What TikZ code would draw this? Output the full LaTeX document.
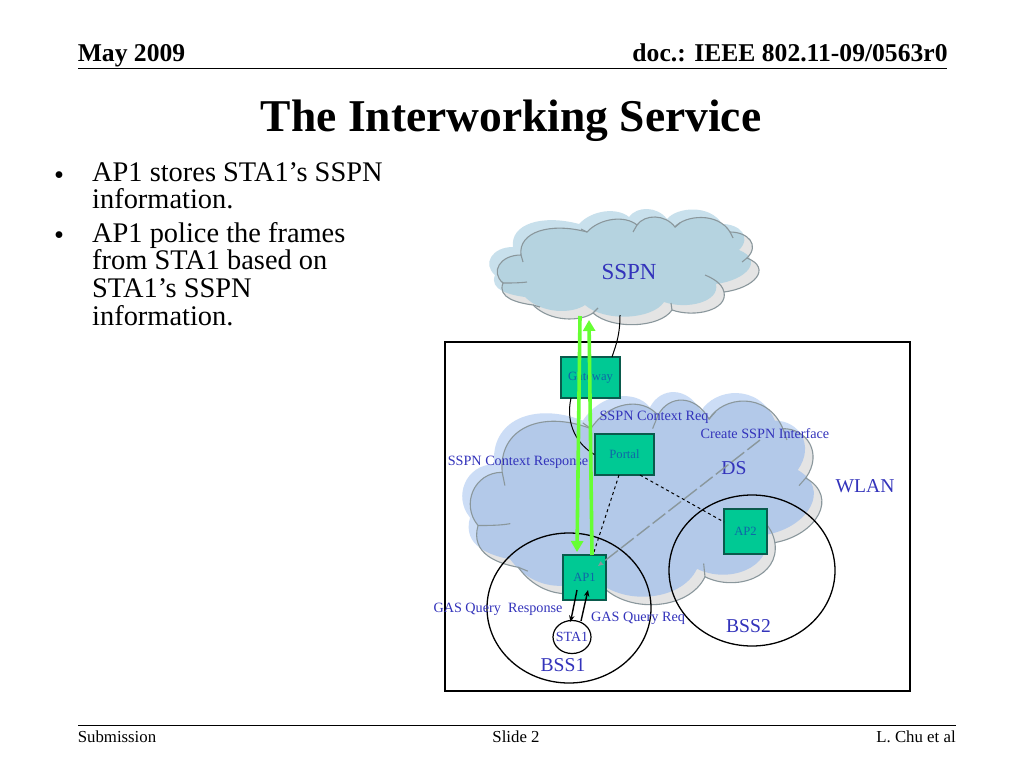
\documentclass[tikz,border=0pt]{standalone}
\usepackage{fontspec}
\setmainfont{Liberation Serif}
\usepackage{tikz}
\usetikzlibrary{arrows.meta, shapes.geometric, positioning}
\definecolor{SspnMain}{HTML}{B5D3E0}
\definecolor{SspnLight}{HTML}{C8E0EC}
\definecolor{DsMain}{HTML}{B3C9E9}
\definecolor{DsLight}{HTML}{CCDDF6}
\definecolor{CloudGrey}{HTML}{E4E4E4}
\definecolor{CloudLine}{HTML}{8A979C}
\definecolor{LabelBlue}{HTML}{3333BB}
\definecolor{BoxTeal}{HTML}{00C994}
\definecolor{BoxEdge}{HTML}{0A5A4C}
\definecolor{BoxText}{HTML}{0F66A8}
\definecolor{GreenLink}{HTML}{66FF33}
\tikzset{
  sspnframe/.style={},
  dsframe/.style={shift={(-197.5,-12.2)},xscale=1.343,yscale=1.9},
  netbox/.style={rectangle, draw=BoxEdge, fill=BoxTeal, line width=1.2pt, inner sep=0pt, text=BoxText, font=\fontsize{12.6}{13}\selectfont},
  netlabel/.style={text=LabelBlue, inner sep=0pt, font=\fontsize{14.2}{15}\selectfont},
  biglabel/.style={text=LabelBlue, inner sep=0pt, font=\fontsize{19.6}{20}\selectfont},
  cellring/.style={ellipse, draw=black, line width=1.3pt, inner sep=0pt},
  greenarrow/.style={-{Triangle[length=11pt,width=12pt]}, line width=3.6pt, GreenLink},
  blackarrow/.style={-{Stealth[length=6.5pt,width=5.5pt]}, line width=1.4pt, black},
  headtext/.style={inner sep=0pt, anchor=base, font=\fontsize{25.6}{26}\selectfont\bfseries},
  foottext/.style={inner sep=0pt, anchor=base, font=\fontsize{16.8}{17}\selectfont},
  bullettext/.style={inner sep=0pt, anchor=north west, align=left, font=\fontsize{28.4}{27.6}\selectfont}
}
% outline of the cloud, in the pixels of the SSPN one
\newcommand{\cloudpath}{(521,255) .. controls (518,232) and (550,222) .. (587,232)
  .. controls (600,218) and (625,215) .. (637,225)
  .. controls (645,214) and (665,214) .. (675,227)
  .. controls (685,215) and (718,212) .. (730,232)
  .. controls (748,232) and (760,245) .. (747,258)
  .. controls (772,268) and (755,288) .. (724,292)
  .. controls (728,310) and (695,318) .. (672,310)
  .. controls (660,328) and (612,330) .. (593,313)
  .. controls (580,322) and (550,322) .. (533,305)
  .. controls (518,303) and (497,298) .. (503,283)
  .. controls (490,272) and (500,255) .. (521,255) -- cycle}
\newcommand{\cloudticks}{(503,283) .. controls (510,283) and (520,283) .. (527,282)
  (521,255) -- (523,262) (587,232) -- (581,229) (637,225) -- (633,232)
  (675,227) -- (680,223) (730,232) -- (733,238) (747,258) -- (742,262)
  (724,292) .. controls (722,283) and (712,278) .. (705,275)
  (672,310) -- (671,303) (593,313) -- (598,308) (533,305) -- (540,307)}
\newcommand{\drawcloud}[3]{
  \fill[shift={(-8,-8)},#1,#2] \cloudpath;
  \fill[#1,CloudGrey] \cloudpath;
  \begin{scope}
    \clip[#1] \cloudpath;
    \fill[shift={(-8,-8)},#1,#3] \cloudpath;
  \end{scope}
  \draw[#1,CloudLine,line width=1.1pt] \cloudpath;
  \draw[#1,CloudLine,line width=1.1pt] \cloudticks;
}

\begin{document}
\begin{tikzpicture}[x=1pt,y=-1pt]
  \useasboundingbox (0,0) rectangle (1024,768);
  \fill[white] (0,0) rectangle (1024,768);

  % slide header and footer
  \node[headtext] (date) at (131.5,62) {May 2009};
  \node[headtext] (docno) at (790,62) {doc.: IEEE 802.11-09/0563r0};
  \draw[line width=1pt] (78,68) -- (947,68);
  \node[inner sep=0pt, anchor=base, font=\fontsize{45.5}{46}\selectfont\bfseries] (title) at (511,131) {The Interworking Service};
  \draw[line width=1pt] (78,725) -- (956,725);
  \node[foottext] (sub) at (117,742) {Submission};
  \node[foottext] (slide) at (516,742) {Slide 2};
  \node[foottext] (auth) at (916,742) {L. Chu et al};

  % bullets
  \node[bullettext] (dot1) at (54,172) {•};
  \node[bullettext] (item1) at (92,162) {AP1 stores STA1’s SSPN\\information.};
  \node[bullettext] (dot2) at (54,232) {•};
  \node[bullettext] (item2) at (92,222) {AP1 police the frames\\from STA1 based on\\STA1’s SSPN\\information.};

  % clouds and network frame
  \drawcloud{sspnframe}{SspnLight}{SspnMain}
  \draw[line width=1.1pt] (445,342) rectangle (910,691);
  \drawcloud{dsframe}{DsLight}{DsMain}

  \node[netbox, minimum width=59pt, minimum height=41pt] (gateway) at (590.5,377.5) {Gateway};
  \node[netbox, minimum width=59pt, minimum height=41pt] (portal) at (624.5,454.5) {Portal};
  \node[netbox, minimum width=43pt, minimum height=45pt] (ap1) at (584.5,577.5) {AP1};
  \node[netbox, minimum width=43pt, minimum height=45pt] (ap2) at (745.5,531.5) {AP2};
  \node[cellring, minimum width=164pt, minimum height=150pt] (bss1) at (569,608) {};
  \node[cellring, minimum width=166pt, minimum height=151pt] (bss2) at (752,570.5) {};
  \node[ellipse, draw=black, line width=1.2pt, inner sep=0pt, minimum width=38pt, minimum height=33pt, text=LabelBlue, font=\fontsize{14}{15}\selectfont] (sta1) at (572,637) {\makebox[0pt]{STA1}};

  % labels
  \node[biglabel, font=\fontsize{23}{24}\selectfont] (sspn) at (629,272) {SSPN};
  \node[biglabel] (ds) at (734,468) {DS};
  \node[biglabel] (wlan) at (865,486) {WLAN};
  \node[biglabel] (bsslab1) at (563,665) {BSS1};
  \node[biglabel] (bsslab2) at (748.5,626) {BSS2};
  \node[netlabel] (req) at (654,417) {SSPN Context Req};
  \node[netlabel] (iface) at (765,434) {Create SSPN Interface};
  \node[netlabel] (resp) at (518,462) {SSPN Context Response};
  \node[netlabel] (gasresp) at (498,609) {GAS Query\ \ Response};
  \node[netlabel] (gasreq) at (638,618) {GAS Query Req};

  % links
  \coordinate (sspnleft) at (580,316);
  \coordinate (sspnright) at (589,320);
  \coordinate (sspnlow) at (620,315);
  \coordinate (ifacelow) at (760,440);
  \draw[line width=1pt] (sspnlow) .. controls (620,335) and (616,345) .. (612,357);
  \draw[line width=1pt] (571,398) .. controls (565,425) and (578,445) .. (portal.west);
  \draw[dashed, line width=1pt] (619,475) -- (593,555);
  \draw[dashed, line width=1pt] (640,475) -- (724,522);
  \draw[CloudLine, line width=1.4pt, dash pattern=on 16pt off 4pt, -{Stealth[length=6pt,width=5pt]}] (ifacelow) -- (598,566);
  \draw[greenarrow] (sspnleft) -- (577,552);
  \draw[greenarrow] (592,555) -- (sspnright);
  \draw[blackarrow] (577,590) -- (570.5,622);
  \draw[blackarrow] (581,621) -- (588,590);
\end{tikzpicture}
\end{document}
